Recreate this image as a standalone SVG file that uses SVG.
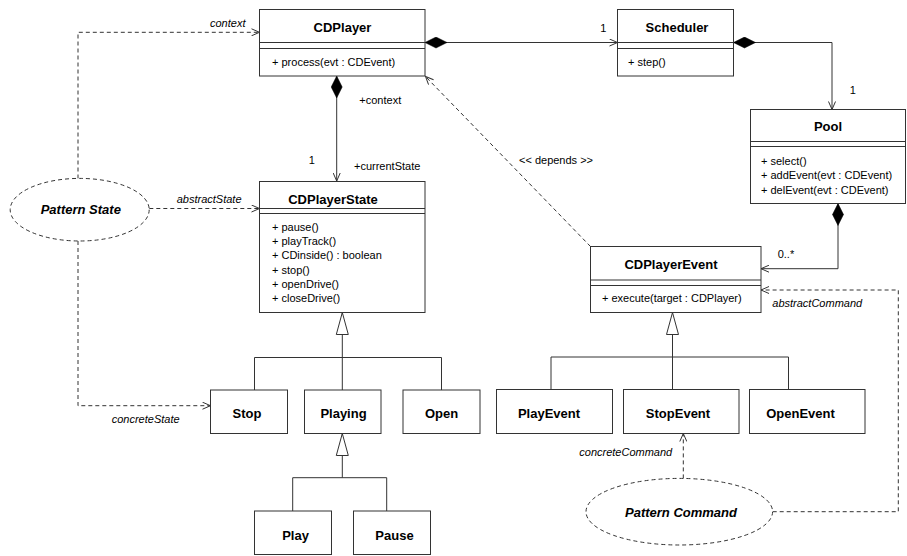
<svg xmlns="http://www.w3.org/2000/svg" width="907" height="556" viewBox="0 0 907 556">
<style>
text{font-family:"Liberation Sans",Arial,sans-serif;fill:#000}
.t{font-size:13px;font-weight:bold;text-anchor:middle}
.m{font-size:11px}
.lb{font-size:11px}
.it{font-size:11px;font-style:italic}
.pt{font-size:13px;font-weight:bold;font-style:italic;text-anchor:middle}
.box{fill:#fff;stroke:#333;stroke-width:1}
.div{stroke:#333;stroke-width:1}
.ln{fill:none;stroke:#333;stroke-width:1}
.dash{fill:none;stroke:#333;stroke-width:1;stroke-dasharray:4 3}
.ell{fill:#fff;stroke:#333;stroke-width:1;stroke-dasharray:4 3}
</style>
<defs>
<marker id="open" viewBox="0 0 10 8" refX="9" refY="4" markerWidth="10" markerHeight="8" markerUnits="userSpaceOnUse" orient="auto">
<path d="M1,0.5 L9,4 L1,7.5" fill="none" stroke="#333" stroke-width="1"/>
</marker>
<marker id="diamond" viewBox="0 0 22 12" refX="0" refY="6" markerWidth="22" markerHeight="12" markerUnits="userSpaceOnUse" orient="auto">
<path d="M0,6 L11,0.5 L22,6 L11,11.5 Z" fill="#000" stroke="#000" stroke-width="0.5"/>
</marker>
<marker id="tri" viewBox="0 0 23 14" refX="22.5" refY="7" markerWidth="23" markerHeight="14" markerUnits="userSpaceOnUse" orient="auto">
<path d="M0.5,1 L22.5,7 L0.5,13 Z" fill="#fff" stroke="#333" stroke-width="1"/>
</marker>
</defs>

<g id="connectors">
<path class="ln" d="M336.7,76 V181" marker-start="url(#diamond)" marker-end="url(#open)"/>
<path class="ln" d="M425,42.5 H617.5" marker-start="url(#diamond)" marker-end="url(#open)"/>
<path class="ln" d="M733.5,42.5 H832 V109.5" marker-start="url(#diamond)" marker-end="url(#open)"/>
<path class="ln" d="M838,203.5 V268.7 H761" marker-start="url(#diamond)" marker-end="url(#open)"/>
<path class="dash" d="M590.5,246.5 L425.5,76.5" marker-end="url(#open)"/>
<path class="dash" d="M78,178.5 V32.3 H259.5" marker-end="url(#open)"/>
<path class="dash" d="M149.3,208.5 H259.5" marker-end="url(#open)"/>
<path class="dash" d="M78,241 V405.7 H210.5" marker-end="url(#open)"/>
<path class="dash" d="M772.7,511.7 H898.3 V290 H761" marker-end="url(#open)"/>
<path class="dash" d="M683.3,478.4 V433.5" marker-end="url(#open)"/>
<path class="ln" d="M254.5,390 V357.5 H441.5 V390"/>
<path class="ln" d="M342.3,390 V312.5" marker-end="url(#tri)"/>
<path class="ln" d="M551,389.5 V357 H788.5 V389.5"/>
<path class="ln" d="M672.5,389.5 V312.5" marker-end="url(#tri)"/>
<path class="ln" d="M292.7,511 V477.7 H386.7 V511"/>
<path class="ln" d="M342.3,477.7 V433.5" marker-end="url(#tri)"/>
<text class="it" x="210" y="27.3">context</text>
<text class="it" x="176.7" y="203.2">abstractState</text>
<text class="it" x="111.7" y="423.2">concreteState</text>
<text class="lb" x="311.7" y="164" text-anchor="middle">1</text>
<text class="lb" x="359.3" y="104">+context</text>
<text class="lb" x="354" y="170">+currentState</text>
<text class="lb" x="603.3" y="32.2" text-anchor="middle">1</text>
<text class="lb" x="852.7" y="94" text-anchor="middle">1</text>
<text class="lb" x="777.7" y="258.2">0..*</text>
<text class="lb" x="519" y="164">&lt;&lt; depends &gt;&gt;</text>
<text class="it" x="772.3" y="307.2">abstractCommand</text>
<text class="it" x="579.3" y="455.6">concreteCommand</text>
</g>

<g id="CDPlayer">
<rect class="box" x="259.5" y="9.5" width="165.5" height="66.5"/>
<line class="div" x1="259.5" y1="42.5" x2="425" y2="42.5"/>
<line class="div" x1="259.5" y1="48.5" x2="425" y2="48.5"/>
<text class="t" x="342.5" y="32">CDPlayer</text>
<text class="m" x="272" y="65.5">+ process(evt : CDEvent)</text>
</g>

<g id="Scheduler">
<rect class="box" x="617.5" y="9.5" width="116" height="66.5"/>
<line class="div" x1="617.5" y1="42.5" x2="733.5" y2="42.5"/>
<line class="div" x1="617.5" y1="48.5" x2="733.5" y2="48.5"/>
<text class="t" x="677" y="32">Scheduler</text>
<text class="m" x="628" y="65.5">+ step()</text>
</g>

<g id="Pool">
<rect class="box" x="750.5" y="109.5" width="155" height="94"/>
<line class="div" x1="750.5" y1="141.5" x2="905.5" y2="141.5"/>
<line class="div" x1="750.5" y1="146.5" x2="905.5" y2="146.5"/>
<text class="t" x="828" y="131">Pool</text>
<text class="m" x="761" y="165">+ select()</text>
<text class="m" x="761" y="179.3">+ addEvent(evt : CDEvent)</text>
<text class="m" x="761" y="193.5">+ delEvent(evt : CDEvent)</text>
</g>

<g id="CDPlayerState">
<rect class="box" x="259.5" y="181.5" width="165.5" height="131"/>
<line class="div" x1="259.5" y1="208.5" x2="425" y2="208.5"/>
<line class="div" x1="259.5" y1="213.5" x2="425" y2="213.5"/>
<text class="t" x="333" y="204">CDPlayerState</text>
<text class="m" x="272" y="230.6">+ pause()</text>
<text class="m" x="272" y="244.9">+ playTrack()</text>
<text class="m" x="272" y="259.2">+ CDinside() : boolean</text>
<text class="m" x="272" y="273.5">+ stop()</text>
<text class="m" x="272" y="287.8">+ openDrive()</text>
<text class="m" x="272" y="302.1">+ closeDrive()</text>
</g>

<g id="CDPlayerEvent">
<rect class="box" x="590.5" y="246.5" width="170.5" height="66"/>
<line class="div" x1="590.5" y1="280" x2="761" y2="280"/>
<line class="div" x1="590.5" y1="285.5" x2="761" y2="285.5"/>
<text class="t" x="671" y="268.6">CDPlayerEvent</text>
<text class="m" x="602" y="302.2">+ execute(target : CDPlayer)</text>
</g>

<g id="Stop">
<rect class="box" x="210.5" y="390" width="77" height="43.5"/>
<text class="t" x="247" y="418">Stop</text>
</g>
<g id="Playing">
<rect class="box" x="304.5" y="390" width="76.5" height="43.5"/>
<text class="t" x="343.5" y="418">Playing</text>
</g>
<g id="Open">
<rect class="box" x="403" y="390" width="77" height="43.5"/>
<text class="t" x="441.5" y="418">Open</text>
</g>
<g id="Play">
<rect class="box" x="254.5" y="511" width="77" height="43.5"/>
<text class="t" x="295.5" y="539.6">Play</text>
</g>
<g id="Pause">
<rect class="box" x="353.5" y="511" width="77" height="43.5"/>
<text class="t" x="394.5" y="539.6">Pause</text>
</g>

<g id="PlayEvent">
<rect class="box" x="496.5" y="389.5" width="116" height="44"/>
<text class="t" x="549" y="418">PlayEvent</text>
</g>
<g id="StopEvent">
<rect class="box" x="623.5" y="389.5" width="115.5" height="44"/>
<text class="t" x="678" y="418">StopEvent</text>
</g>
<g id="OpenEvent">
<rect class="box" x="749.5" y="389.5" width="115.5" height="44"/>
<text class="t" x="800.5" y="418">OpenEvent</text>
</g>

<g id="PatternState">
<ellipse class="ell" cx="79.7" cy="209.7" rx="69.5" ry="31.3"/>
<text class="pt" x="80.8" y="214">Pattern State</text>
</g>
<g id="PatternCommand">
<ellipse class="ell" cx="679.3" cy="511.7" rx="93.3" ry="33.3"/>
<text class="pt" x="681" y="517.3">Pattern Command</text>
</g>
</svg>
